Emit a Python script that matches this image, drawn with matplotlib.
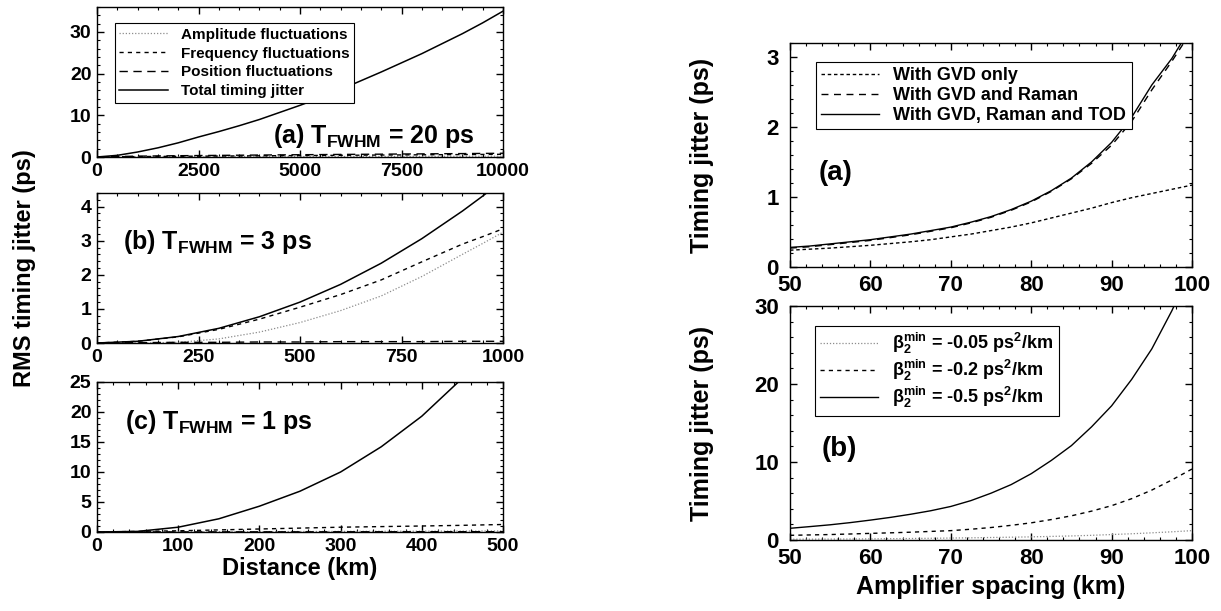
import matplotlib
matplotlib.use("Agg")
import matplotlib.pyplot as plt
from matplotlib.ticker import AutoMinorLocator, MultipleLocator

plt.rcParams.update({
    "font.family": "Liberation Sans",
    "font.weight": "bold",
    "mathtext.fontset": "custom",
    "mathtext.rm": "Liberation Sans:bold",
    "mathtext.bf": "Liberation Sans:bold",
    "mathtext.it": "Liberation Sans:bold",
    "mathtext.default": "bf",
    "axes.linewidth": 1.0,
})

# ---- left column: RMS timing jitter vs distance ----
# (a) T_FWHM = 20 ps
dist_a = [0, 500, 1000, 1500, 2000, 2500, 3000, 3500, 4000, 4500, 5000,
          5500, 6000, 6500, 7000, 7500, 8000, 8500, 9000, 9500, 10000]
total_a = [0, 0.4, 1.2, 2.2, 3.4, 4.8, 6.1, 7.5, 9.0, 10.7, 12.4,
           14.2, 16.2, 18.3, 20.4, 22.6, 24.8, 27.2, 29.6, 32.2, 35.0]
amp_a = [0, 0.01, 0.02, 0.03, 0.04, 0.05, 0.06, 0.07, 0.08, 0.09, 0.1,
         0.11, 0.12, 0.13, 0.14, 0.15, 0.16, 0.17, 0.18, 0.19, 0.2]
freq_a = [0, 0.05, 0.1, 0.14, 0.17, 0.2, 0.23, 0.26, 0.29, 0.32, 0.35,
          0.38, 0.41, 0.44, 0.47, 0.5, 0.53, 0.56, 0.59, 0.62, 0.65]
pos_a = [0, 0.12, 0.2, 0.26, 0.31, 0.35, 0.39, 0.43, 0.47, 0.51, 0.55,
         0.58, 0.62, 0.65, 0.68, 0.72, 0.75, 0.79, 0.82, 0.86, 0.9]

# (b) T_FWHM = 3 ps
dist_b = [0, 100, 200, 300, 400, 500, 600, 700, 800, 900, 950, 1000]
total_b = [0, 0.05, 0.19, 0.43, 0.77, 1.2, 1.72, 2.34, 3.06, 3.87, 4.31, 4.78]
amp_b = [0, 0.0, 0.02, 0.12, 0.32, 0.6, 0.95, 1.38, 1.95, 2.6, 2.92, 3.25]
freq_b = [0, 0.05, 0.18, 0.4, 0.7, 1.05, 1.42, 1.85, 2.38, 2.9, 3.12, 3.35]
pos_b = [0, 0.01, 0.02, 0.02, 0.03, 0.03, 0.04, 0.04, 0.04, 0.05, 0.05, 0.05]

# (c) T_FWHM = 1 ps
dist_c = [0, 50, 100, 150, 200, 250, 300, 350, 400, 445, 500]
total_c = [0, 0.1, 0.8, 2.2, 4.3, 6.8, 10.0, 14.2, 19.3, 25.0, 33.0]
amp_c = [0, 0.01, 0.03, 0.05, 0.06, 0.08, 0.1, 0.12, 0.14, 0.16, 0.18]
freq_c = [0, 0.1, 0.2, 0.35, 0.5, 0.65, 0.8, 0.9, 1.0, 1.1, 1.25]
pos_c = [0, 0.01, 0.02, 0.02, 0.03, 0.03, 0.04, 0.04, 0.05, 0.05, 0.05]

# ---- right column: timing jitter vs amplifier spacing ----
spacing = [50, 52.5, 55, 57.5, 60, 62.5, 65, 67.5, 70, 72.5, 75,
           77.5, 80, 82.5, 85, 87.5, 90, 92.5, 95, 97.5, 100]
gvd_only = [0.24, 0.255, 0.27, 0.29, 0.31, 0.335, 0.36, 0.39, 0.43, 0.47, 0.52,
            0.57, 0.63, 0.7, 0.77, 0.84, 0.92, 0.99, 1.05, 1.11, 1.17]
gvd_raman = [0.27, 0.29, 0.32, 0.35, 0.38, 0.42, 0.46, 0.51, 0.56, 0.63, 0.71,
             0.81, 0.93, 1.08, 1.26, 1.48, 1.74, 2.08, 2.53, 2.94, 3.38]
gvd_raman_tod = [0.28, 0.3, 0.33, 0.36, 0.39, 0.43, 0.47, 0.52, 0.57, 0.64, 0.72,
                 0.82, 0.94, 1.09, 1.27, 1.5, 1.78, 2.14, 2.6, 2.98, 3.45]

beta_005 = [0.1, 0.11, 0.12, 0.13, 0.15, 0.17, 0.19, 0.22, 0.25, 0.28, 0.32,
            0.36, 0.4, 0.46, 0.52, 0.6, 0.7, 0.8, 0.92, 1.05, 1.2]
beta_02 = [0.6, 0.65, 0.7, 0.77, 0.85, 0.92, 1.0, 1.1, 1.2, 1.38, 1.6,
           1.88, 2.2, 2.62, 3.1, 3.7, 4.4, 5.3, 6.4, 7.7, 9.1]
beta_05 = [1.5, 1.72, 1.95, 2.23, 2.55, 2.9, 3.3, 3.75, 4.3, 5.05, 6.0,
           7.1, 8.5, 10.2, 12.1, 14.5, 17.2, 20.6, 24.5, 29.4, 35.0]

W, H = 1221, 611
fig = plt.figure(figsize=(W / 100, H / 100), dpi=100)


def box(x0, y0, x1, y1):
    return [x0 / W, 1 - y1 / H, (x1 - x0) / W, (y1 - y0) / H]


def style(ax, tick_size):
    ax.tick_params(which="both", direction="in", top=True, right=True,
                   labelsize=tick_size, pad=4)
    ax.tick_params(which="major", length=5, width=1.0)
    ax.tick_params(which="minor", length=2.5, width=0.8)
    ax.xaxis.set_minor_locator(AutoMinorLocator(5))
    ax.yaxis.set_minor_locator(AutoMinorLocator(5))
    for lab in ax.get_xticklabels() + ax.get_yticklabels():
        lab.set_fontweight("bold")


amp_style = dict(color="0.55", lw=0.9, linestyle=(0, (1, 1.5)))
freq_style = dict(color="black", lw=1.0, linestyle=(0, (3, 3)))
pos_style = dict(color="black", lw=1.0, linestyle=(0, (6, 4)))
tot_style = dict(color="black", lw=1.1, linestyle="-")

left_panels = [
    (box(97, 7, 503, 157), dist_a, [amp_a, freq_a, pos_a, total_a], 10000, 36, 2500, 10),
    (box(97, 193, 503, 343), dist_b, [amp_b, freq_b, pos_b, total_b], 1000, 4.4, 250, 1),
    (box(97, 382, 503, 532), dist_c, [amp_c, freq_c, pos_c, total_c], 500, 25, 100, 5),
]
labels_left = ["Amplitude fluctuations", "Frequency fluctuations",
               "Position fluctuations", "Total timing jitter"]
left_axes = []
for rect, xs, series, xmax, ymax, xstep, ystep in left_panels:
    ax = fig.add_axes(rect)
    for ys, st, lab in zip(series, [amp_style, freq_style, pos_style, tot_style], labels_left):
        ax.plot(xs, ys, label=lab, **st)
    ax.set_xlim(0, xmax)
    ax.set_ylim(0, ymax)
    ax.xaxis.set_major_locator(MultipleLocator(xstep))
    ax.yaxis.set_major_locator(MultipleLocator(ystep))
    style(ax, 14)
    left_axes.append(ax)

ax_a, ax_b, ax_c = left_axes
leg0 = ax_a.legend(loc="upper left", bbox_to_anchor=(0.044, 0.893), borderaxespad=0,
                   fontsize=11, handlelength=3.2, labelspacing=0.32, borderpad=0.3,
                   handletextpad=0.8, fancybox=False, edgecolor="black", framealpha=1)
leg0.get_frame().set_linewidth(0.8)
ax_a.text(0.434, 0.09, r"(a) T$_{FWHM}$ = 20 ps", transform=ax_a.transAxes, fontsize=18)
ax_b.text(0.064, 0.63, r"(b) T$_{FWHM}$ = 3 ps", transform=ax_b.transAxes, fontsize=18)
ax_c.text(0.069, 0.69, r"(c) T$_{FWHM}$ = 1 ps", transform=ax_c.transAxes, fontsize=18)
ax_c.set_xlabel("Distance (km)", fontsize=17, fontweight="bold", labelpad=2)
fig.text(25 / W, 1 - 268 / H, "RMS timing jitter (ps)", rotation=90, fontsize=17,
         fontweight="bold", ha="center", va="center")

# ---- right column ----
ax_r1 = fig.add_axes(box(790, 43, 1192, 267))
ax_r1.plot(spacing, gvd_only, color="black", lw=1.0, linestyle=(0, (2.5, 2)),
           label="With GVD only")
ax_r1.plot(spacing, gvd_raman, color="black", lw=1.0, linestyle=(0, (5, 4)),
           label="With GVD and Raman")
ax_r1.plot(spacing, gvd_raman_tod, color="black", lw=1.0, label="With GVD, Raman and TOD")
ax_r1.set_xlim(50, 100)
ax_r1.set_ylim(0, 3.2)
ax_r1.xaxis.set_major_locator(MultipleLocator(10))
ax_r1.yaxis.set_major_locator(MultipleLocator(1))
style(ax_r1, 16)
ax_r1.tick_params(axis="x", pad=6)
ax_r1.tick_params(axis="y", pad=8)
ax_r1.set_ylabel("Timing jitter (ps)", fontsize=18, fontweight="bold")
ax_r1.yaxis.set_label_coords(-0.19, 0.5)
leg = ax_r1.legend(loc="upper left", bbox_to_anchor=(0.064, 0.915), borderaxespad=0,
                   fontsize=13, handlelength=3.2, labelspacing=0.15, borderpad=0.3,
                   fancybox=False, edgecolor="black", framealpha=1)
leg.get_frame().set_linewidth(0.8)
ax_r1.text(0.07, 0.39, "(a)", transform=ax_r1.transAxes, fontsize=20)

ax_r2 = fig.add_axes(box(790, 306, 1192, 540))
ax_r2.plot(spacing, beta_005, color="0.55", lw=0.9, linestyle=(0, (1, 1.5)),
           label=r"$\beta_2^{min}$ = -0.05 ps$^2$/km")
ax_r2.plot(spacing, beta_02, color="black", lw=1.0, linestyle=(0, (3, 3)),
           label=r"$\beta_2^{min}$ = -0.2 ps$^2$/km")
ax_r2.plot(spacing, beta_05, color="black", lw=1.0,
           label=r"$\beta_2^{min}$ = -0.5 ps$^2$/km")
ax_r2.set_xlim(50, 100)
ax_r2.set_ylim(0, 30)
ax_r2.xaxis.set_major_locator(MultipleLocator(10))
ax_r2.yaxis.set_major_locator(MultipleLocator(10))
style(ax_r2, 16)
ax_r2.tick_params(axis="x", pad=6)
ax_r2.tick_params(axis="y", pad=8)
ax_r2.set_ylabel("Timing jitter (ps)", fontsize=18, fontweight="bold")
ax_r2.yaxis.set_label_coords(-0.19, 0.5)
ax_r2.set_xlabel("Amplifier spacing (km)", fontsize=18, fontweight="bold", labelpad=4)
leg2 = ax_r2.legend(loc="upper left", bbox_to_anchor=(0.061, 0.915), borderaxespad=0,
                    fontsize=13, handlelength=3.2, labelspacing=0.1, borderpad=0.3,
                    fancybox=False, edgecolor="black", framealpha=1)
leg2.get_frame().set_linewidth(0.8)
ax_r2.text(0.078, 0.36, "(b)", transform=ax_r2.transAxes, fontsize=20)

fig.savefig("out.png", dpi=100)
